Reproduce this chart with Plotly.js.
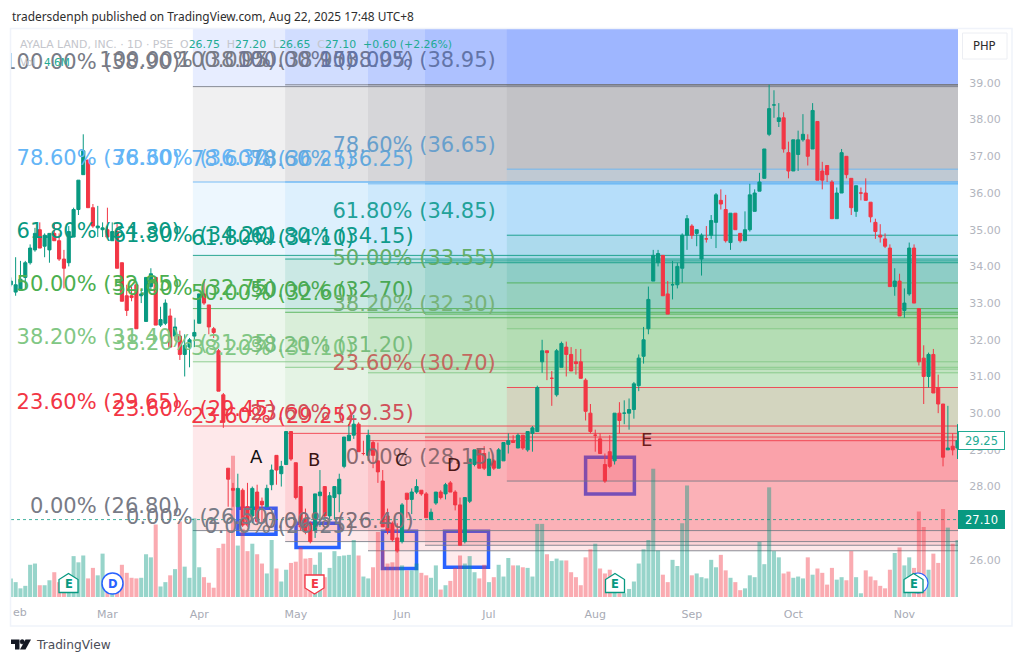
<!DOCTYPE html>
<html><head><meta charset="utf-8">
<script src="https://cdn.plot.ly/plotly-3.0.1.min.js"></script>
<style>html,body{margin:0;padding:0;background:#fff}#c{width:1023px;height:663px}</style></head>
<body><div id="c"></div>
<script>
// [open, high, low, close] daily candles, one line per ten bars
const o=[33.5,33.3,33.35,33.7,34.1,34.45,35.0,34.55,34.45,34.9,
34.7,34.2,34.1,34.8,35.55,36.5,36.9,35.6,35.05,35.0,
35.0,34.7,34.95,34.1,33.2,33.2,33.5,33.2,32.5,33.45,
33.7,32.4,32.45,32.65,32.1,32.1,31.6,31.8,32.1,32.45,
33.25,32.95,32.3,31.7,30.5,28.5,27.95,27.45,27.9,27.45,
27.2,27.85,27.6,27.45,28.05,28.85,28.35,28.6,29.5,28.65,
28.0,27.1,27.0,26.8,27.75,28.0,27.2,27.7,27.8,28.55,
29.25,29.4,29.7,28.9,28.85,29.2,28.7,28.15,27.2,27.0,
26.6,26.5,27.82,27.65,27.85,27.9,27.8,27.1,27.55,27.85,
27.8,28.1,27.85,27.5,26.5,27.6,28.6,29.0,28.9,28.3,
28.7,28.5,28.7,29.15,29.25,29.05,29.4,29.0,29.45,29.5,
31.4,31.7,30.95,30.5,31.25,31.8,31.6,31.4,31.4,30.9,
30.0,29.4,29.3,28.6,28.95,28.7,30.0,30.0,30.0,30.1,
30.75,31.55,32.3,33.6,34.1,34.3,33.25,33.5,33.5,33.95,
34.85,35.1,34.9,34.2,34.75,34.85,35.2,35.8,35.55,34.65,
35.45,34.9,34.7,35.0,35.5,36.05,36.4,37.6,38.4,37.95,
38.05,37.1,36.6,37.05,37.45,37.45,37.2,37.95,36.6,36.75,
36.3,35.3,36.0,37.0,36.4,35.5,36.0,36.0,35.75,35.2,
34.85,34.75,34.5,33.45,33.6,32.8,33.25,34.5,32.85,31.5,
31.0,31.6,30.7,30.25,29.0,29.1,29.05];
const h=[33.7,34.25,34.15,34.15,34.6,35.05,35.2,34.9,34.9,35.2,
34.9,34.45,35.1,35.6,36.35,37.6,36.9,35.7,35.65,35.2,
35.6,35.2,35.2,34.1,33.5,33.45,33.5,33.35,33.7,33.95,
33.7,32.9,33.1,32.85,32.6,32.25,32.15,32.05,32.55,33.25,
33.6,32.95,32.35,31.75,30.55,28.5,28.1,28.35,27.95,28.1,
28.0,28.05,27.7,28.05,28.6,28.85,28.7,29.5,29.5,28.65,
28.0,27.4,27.05,27.8,28.45,28.0,27.85,28.0,28.35,29.35,
29.7,29.95,29.75,29.25,29.55,29.25,29.2,28.45,27.4,27.05,
27.0,27.55,27.82,27.95,28.2,27.9,27.85,27.4,27.85,27.9,
28.1,28.15,27.9,27.7,27.7,28.75,29.0,29.0,29.1,28.95,
28.75,29.05,29.2,29.45,29.4,29.45,29.4,29.5,29.65,30.75,
32.0,31.7,31.15,31.75,31.95,31.95,31.8,31.75,31.75,30.95,
30.25,29.55,29.45,28.9,29.4,30.0,30.3,30.35,30.4,30.85,
31.6,32.35,33.45,34.45,34.45,34.3,33.6,34.15,34.1,34.9,
35.4,35.15,35.0,34.9,35.1,35.4,36.0,36.1,35.95,35.45,
35.45,34.9,35.5,36.25,36.1,36.55,37.2,38.95,38.8,38.45,
38.2,37.4,37.45,37.7,38.15,37.6,38.45,37.95,36.85,36.75,
36.35,36.15,37.2,37.0,36.4,36.2,36.15,36.4,35.75,35.3,
35.15,34.9,34.6,33.95,33.8,33.4,34.65,34.6,32.85,31.85,
31.65,31.75,31.05,30.25,30.2,29.45,29.7];
const l=[33.45,33.2,33.35,33.4,34.05,34.4,34.5,34.25,34.1,34.7,
34.15,33.4,34.0,34.8,35.4,36.5,35.6,35.05,34.8,34.8,
34.75,34.7,33.95,33.05,32.65,33.05,32.3,33.0,32.5,33.35,
32.4,32.35,32.4,31.8,32.0,31.45,31.0,31.25,31.8,32.45,
32.95,32.15,32.05,30.6,29.6,27.45,27.45,27.45,26.9,26.9,
27.0,26.95,27.0,27.45,27.9,28.05,28.0,28.6,28.7,27.65,
26.8,26.7,26.45,26.6,26.9,27.15,27.0,27.1,27.3,28.5,
29.25,29.3,28.95,28.85,28.7,28.5,28.1,26.9,26.7,26.5,
26.2,26.45,27.15,27.25,27.8,27.75,27.15,27.1,27.5,27.65,
27.65,27.85,27.35,26.4,26.45,27.55,28.55,28.5,28.45,28.3,
28.45,28.5,28.7,28.9,29.2,29.05,29.0,28.95,28.95,29.5,
31.1,30.9,30.2,30.45,31.25,31.0,31.15,31.05,30.95,29.8,
29.45,28.95,28.9,28.1,28.5,28.6,29.45,29.7,29.55,29.85,
30.6,31.35,32.15,33.6,34.0,33.2,32.7,33.1,33.4,33.55,
34.45,34.75,34.55,33.75,34.65,34.75,34.5,35.55,34.65,34.45,
35.0,34.65,34.7,34.95,35.5,36.05,36.4,37.55,38.05,37.8,
37.1,36.4,36.6,36.6,37.4,36.75,37.2,36.35,36.1,36.3,
35.3,35.3,36.0,36.4,35.4,35.35,35.8,35.8,35.2,34.75,
34.65,34.5,33.45,33.2,32.65,32.6,33.2,33.0,31.3,30.25,
30.7,30.55,30.0,28.55,29.0,28.85,28.75];
const c=[33.6,33.5,33.65,34.1,34.5,34.9,34.5,34.85,34.9,34.7,
34.2,33.95,34.95,35.55,36.35,37.15,35.6,35.1,35.1,35.05,
34.8,34.95,33.95,33.05,32.8,33.15,32.3,33.25,33.7,33.8,
32.4,32.55,33.0,31.8,32.35,31.6,31.85,32.0,32.2,33.25,
33.0,32.35,32.2,30.6,29.75,28.2,27.9,27.95,26.95,26.95,
27.95,27.05,27.5,27.95,28.45,28.45,28.55,29.5,28.75,27.7,
26.9,26.8,26.5,27.8,27.85,27.2,27.75,28.0,28.2,29.35,
29.4,29.7,28.95,28.9,29.4,28.85,28.4,26.9,26.8,26.55,
26.25,27.5,27.65,27.85,28.0,27.8,27.15,27.3,27.85,27.7,
28.05,27.85,27.5,26.4,27.7,28.75,29.0,28.5,28.5,28.75,
28.5,29.0,29.2,29.25,29.2,29.4,29.05,29.5,29.6,30.7,
31.7,31.65,30.95,31.7,31.9,31.6,31.15,31.35,30.95,30.05,
29.5,29.4,28.9,28.15,28.55,30.0,29.8,30.0,30.1,30.8,
31.5,32.0,33.1,34.3,34.35,33.2,32.7,33.5,34.0,34.85,
35.3,34.85,35.0,34.85,34.75,35.25,35.95,35.7,34.7,35.45,
35.0,34.7,35.0,35.95,36.0,36.3,37.2,38.3,38.4,38.05,
37.2,36.6,37.45,37.45,37.6,37.0,38.25,36.35,36.35,36.5,
35.3,36.0,37.1,36.5,35.6,36.2,36.0,35.8,35.35,34.95,
34.8,34.55,33.45,33.6,32.65,33.0,34.5,33.0,31.4,31.0,
31.6,30.55,30.25,28.8,29.05,29.0,29.25];
// volume in millions of shares
const vol=[1.5,1.2,0.7,0.9,2.6,2.7,0.95,0.95,1.35,2.0,
1.2,0.8,1.75,3.3,2.8,3.35,1.5,2.35,1.75,3.5,
0.8,1.35,1.35,2.6,1.95,1.55,1.5,1.55,3.45,3.2,
5.85,0.85,1.2,1.75,2.25,6.1,2.45,1.55,6.35,2.4,
1.6,1.15,0.75,3.95,4.3,5.4,11.4,4.15,5.5,3.7,
4.3,3.45,2.7,1.9,4.6,2.3,1.25,2.2,2.75,2.85,
4.0,3.1,3.15,2.6,3.6,1.6,2.35,3.7,3.3,3.35,
3.4,4.6,3.35,1.65,1.5,2.4,5.25,3.75,2.7,2.8,
3.9,2.55,2.15,2.15,2.7,1.95,1.75,1.55,2.55,0.6,
0.95,1.3,2.35,3.35,2.7,3.3,2.0,1.5,2.6,1.2,
1.6,2.6,1.65,3.15,2.55,2.55,2.4,2.35,1.65,5.9,
5.9,3.45,2.9,3.1,2.95,2.95,2.0,1.6,0.95,3.2,
3.85,4.3,2.3,1.9,2.2,1.6,0.3,0.3,0.65,1.25,
2.7,3.85,4.6,10.35,3.75,1.8,1.2,3.0,2.5,5.95,
9.0,1.75,1.9,1.6,1.5,3.0,2.4,3.4,2.15,1.55,
1.2,0.55,0.7,1.75,1.6,4.45,2.65,8.85,3.7,3.2,
1.9,2.05,1.55,1.65,1.5,3.2,1.8,2.3,1.95,1.0,
2.35,1.4,1.6,1.35,3.7,1.6,0.3,2.15,1.65,1.35,
0.9,0.7,2.2,3.55,4.0,2.55,3.2,2.35,6.9,5.65,
2.2,3.5,2.75,7.1,5.6,4.3,4.6];

const GREEN='#089981', RED='#F23645', GREY='#787b86';
const monthTicks=[20,39,59,81,99,121,141,162,185];
const monthLabels=['Mar','Apr','May','Jun','Jul','Aug','Sep','Oct','Nov'];
const priceTicks=[26,27,28,29,30,31,32,33,34,35,36,37,38,39];

// Fibonacci retracements
const fibPct=['100.00','78.60','61.80','50.00','38.20','23.60','0.00'];
const fibLineColors=[GREY,'#64b5f6',GREEN,'#4caf50','#81c784',RED,GREY];
const fibFillColors=['#787b86','#64b5f6','#089981','#4caf50','#81c784','#f23645'];
const fib1=[38.90,36.30,34.30,32.85,31.40,29.65,26.80];
const fib2=[38.95,36.30,34.20,32.75,31.25,29.45,26.50];
const fib3=[38.95,36.25,34.10,32.60,31.10,29.25,26.25];
const fib4=[38.95,36.25,34.15,32.70,31.20,29.35,26.40];
const fib5=[38.95,36.65,34.85,33.55,32.30,30.70,28.15];
const fibs=[fib1,fib2,fib3,fib4,fib5];
const fibStart=[37.7,56.8,73.95,85.75,102.7];
const fibLabelX=[35.0,54.9,71.1,83.4,100.4];
const fibLabelTextColors=[
 [GREY,'#64b5f6',GREEN,'#4caf50','#81c784',RED,GREY],
 [GREY,'#64b5f6',GREEN,'#4caf50','#81c784',RED,GREY],
 [GREY,'#64b0ee',GREEN,'#4caf50','#81c784',RED,GREY],
 ['#6f7694','#62a8dc','#109b8c','#4aa855','#78bd7c','#d0505a','#7f6f78'],
 ['#6274a8','#689fcc','#22a199','#63ae68','#77b279','#c3685f','#8c6a70']];
const labelLift=0.62;

// drawn rectangles and letters
const boxX0=[47.0,59.05,76.95,89.8,119.0], boxX1=[54.9,67.95,84.0,98.9,129.1];
const boxY0=[26.70,26.34,25.77,25.80,27.80], boxY1=[27.41,27.00,26.78,26.78,28.80];
const letters=['A','B','C','D','E'];
const letterX=[50.8,62.8,80.8,91.8,131.7], letterY=[28.81,28.75,28.73,28.60,29.27];
const letterColors=['#111','#3a1212','#3d2020','#4a1616','#6e1c1c'];

const N=o.length, xs=o.map((_,i)=>i);
const XMIN=0.04,XMAX=196.1,YMIN=24.99,YMAX=40.47;
const fx=p=>(p-11)/947, fy=p=>(597-p)/568;

const shapes=[];
boxX0.forEach((x,i)=>shapes.push({type:'rect',layer:'below',xref:'x',yref:'y2',x0:x,x1:boxX1[i],y0:boxY0[i],y1:boxY1[i],
  line:{color:'#2962ff',width:3.5},fillcolor:'rgba(242,54,69,0.10)'}));
fibs.forEach((f,k)=>{
  shapes.push({type:'rect',layer:'below',xref:'x',yref:'y2',x0:fibStart[k],x1:XMAX,y0:f[0],y1:YMAX,line:{width:0},fillcolor:'#2962ff',opacity:0.113});
  for(let j=0;j<6;j++) shapes.push({type:'rect',layer:'below',xref:'x',yref:'y2',x0:fibStart[k],x1:XMAX,y0:f[j+1],y1:f[j],line:{width:0},fillcolor:fibFillColors[j],opacity:0.113});
});
fibs.forEach((f,k)=>f.forEach((v,j)=>shapes.push({type:'line',layer:'below',xref:'x',yref:'y2',x0:fibStart[k],x1:XMAX,y0:v,y1:v,line:{color:fibLineColors[j],width:1},opacity:0.85})));
shapes.push({type:'line',layer:'below',xref:'x',yref:'y2',x0:XMIN,x1:XMAX,y0:27.10,y1:27.10,line:{color:GREEN,width:1,dash:'dot'},opacity:0.75});
shapes.push({type:'rect',xref:'paper',yref:'paper',x0:fx(10.5),x1:fx(1012),y0:fy(626),y1:fy(28.5),line:{color:'#f0f3fa',width:1.5},fillcolor:'rgba(0,0,0,0)'});
shapes.push({type:'rect',xref:'paper',yref:'paper',x0:fx(962.5),x1:fx(1007),y0:fy(59),y1:fy(33),line:{color:'#eceef3',width:1},fillcolor:'#fff'});
function pathOf(pts){return pts.map((q,i)=>(i?'L':'M')+fx(q[0])+','+fy(q[1])).join(' ')+' Z';}
function house(cx,col){return {type:'path',xref:'paper',yref:'paper',path:pathOf([[cx,573.5],[cx+9.5,579.5],[cx+9.5,592.5],[cx-9.5,592.5],[cx-9.5,579.5]]),line:{color:col,width:1.3},fillcolor:'#fff'};}
function shield(cx,col){return {type:'path',xref:'paper',yref:'paper',path:pathOf([[cx-9.5,575],[cx+9.5,575],[cx+9.5,588],[cx,594],[cx-9.5,588]]),line:{color:col,width:1.3},fillcolor:'#fff'};}
function circ(cx,cy,r,col,lw){return {type:'circle',xref:'paper',yref:'paper',x0:fx(cx-r),x1:fx(cx+r),y0:fy(cy+r),y1:fy(cy-r),line:{color:col,width:lw},fillcolor:'#fff'};}
shapes.push(house(68.5,GREEN),circ(112.5,583.5,10.5,'#2962ff',1.5),shield(314.5,RED),house(615,GREEN),circ(918,583,10,'#2962ff',1.2),house(913.5,GREEN));
shapes.push({type:'path',xref:'paper',yref:'paper',path:pathOf([[11,639.5],[19.5,639.5],[19.5,649.5],[15,649.5],[15,644],[11,644]]),line:{width:0},fillcolor:'#131722'});
shapes.push({type:'path',xref:'paper',yref:'paper',path:pathOf([[25.5,639.5],[31,639.5],[25.5,649.5],[20,649.5]]),line:{width:0},fillcolor:'#131722'});
shapes.push(circ(22.2,641.8,2.2,'#131722',0.5)); shapes[shapes.length-1].fillcolor='#131722';

const ann=[];
function txt(px,py,t,size,color,anchor='left',family='DejaVu Sans'){ann.push({xref:'paper',yref:'paper',x:fx(px),y:fy(py),text:t,showarrow:false,xanchor:anchor,yanchor:'middle',
  font:{family:family,size:size,color:color},borderpad:0});}
txt(11,16,'tradersdenph published on TradingView.com, Aug 22, 2025 17:48 UTC+8',11.9,'#2e2e2e','left','Noto Sans');
txt(19,45,'<span style="color:#c4c6cc">AYALA LAND, INC. · 1D · PSE  O</span><span style="color:#22ab94">26.75</span><span style="color:#c4c6cc">  H</span><span style="color:#22ab94">27.20</span><span style="color:#c4c6cc">  L</span><span style="color:#22ab94">26.65</span><span style="color:#c4c6cc">  C</span><span style="color:#22ab94">27.10  +0.60 (+2.26%)</span>',10.9,'#c4c6cc');
txt(19,62,'Vol',10.5,'#c4c6cc');
txt(43,62,'4.6M',10.5,'#22ab94');
txt(11.5,612,'eb',11,'#a8abb5');
txt(984.5,46,'PHP',11.5,'#2e2e2e','center');
txt(35,645,'TradingView',12.2,'#4a4d57');
ann.push({xref:'paper',yref:'y2',x:fx(981),y:27.10,text:'27.10',showarrow:false,xanchor:'center',yanchor:'middle',width:43,height:15,bgcolor:GREEN,bordercolor:GREEN,borderwidth:1,font:{family:'DejaVu Sans',size:11.5,color:'#fff'}});
ann.push({xref:'paper',yref:'y2',x:fx(981),y:29.25,text:'29.25',showarrow:false,xanchor:'center',yanchor:'middle',width:43,height:15,bgcolor:'#fff',bordercolor:'#22ab94',borderwidth:1,font:{family:'DejaVu Sans',size:11.5,color:'#22ab94'}});
letters.forEach((t,i)=>ann.push({xref:'x',yref:'y2',x:letterX[i],y:letterY[i],text:t,showarrow:false,font:{family:'DejaVu Sans',size:18,color:letterColors[i]}}));
[[68.5,584,'E',GREEN],[112.5,583.5,'D','#2962ff'],[314.5,584,'E',RED],[615,584,'E',GREEN],[913.5,584,'E',GREEN]].forEach(b=>txt(b[0],b[1],'<b>'+b[2]+'</b>',11.5,b[3],'center'));

const data=[
 {type:'bar',x:xs,y:vol,xaxis:'x',yaxis:'y',marker:{color:xs.map(i=>c[i]>=o[i]?'rgba(8,153,129,0.42)':'rgba(242,54,69,0.42)'),line:{width:0}},hoverinfo:'skip',showlegend:false},
 {type:'candlestick',x:xs,open:o,high:h,low:l,close:c,xaxis:'x',yaxis:'y2',whiskerwidth:0,line:{width:1},
  increasing:{line:{color:GREEN,width:1},fillcolor:GREEN},decreasing:{line:{color:RED,width:1},fillcolor:RED},hoverinfo:'skip',showlegend:false}
];
fibs.forEach((f,k)=>data.push({type:'scatter',mode:'text',x:f.map(()=>fibLabelX[k]),y:f.map(v=>v+labelLift),xaxis:'x',yaxis:'y2',
  text:f.map((v,j)=>fibPct[j]+'% ('+v.toFixed(2)+')'),textposition:'middle left',cliponaxis:true,
  textfont:{family:'DejaVu Sans',size:21,color:fibLabelTextColors[k]},hoverinfo:'skip',showlegend:false}));

const layout={
 width:1023,height:663,margin:{l:11,r:65,t:29,b:66},autosize:false,showlegend:false,
 paper_bgcolor:'#fff',plot_bgcolor:'#fff',boxgap:0.08,bargap:0.16,dragmode:false,
 xaxis:{range:[XMIN,XMAX],tickmode:'array',tickvals:monthTicks,ticktext:monthLabels,showgrid:false,zeroline:false,showline:false,ticks:'outside',ticklen:7,tickcolor:'rgba(0,0,0,0)',
   rangeslider:{visible:false},tickfont:{family:'DejaVu Sans',size:11,color:'#a8abb5'},fixedrange:true},
 yaxis:{range:[0,45.84],visible:false,fixedrange:true},
 yaxis2:{range:[YMIN,YMAX],overlaying:'y',side:'right',anchor:'x',tickmode:'array',tickvals:priceTicks,tickformat:'.2f',showgrid:false,zeroline:false,showline:false,ticks:'outside',ticklen:8,tickcolor:'rgba(0,0,0,0)',
   tickfont:{family:'DejaVu Sans',size:11,color:'#b2b5be'},fixedrange:true},
 shapes:shapes,annotations:ann
};
Plotly.newPlot('c',data,layout,{displayModeBar:false,staticPlot:true});
</script></body></html>
